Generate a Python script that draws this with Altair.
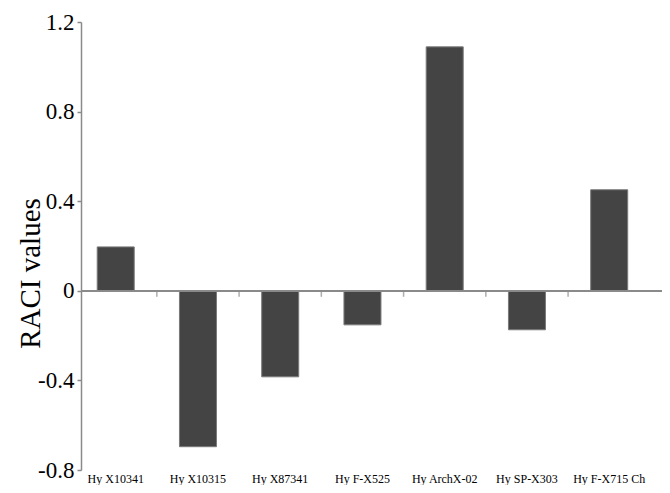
import altair as alt
import pandas as pd

categories = ["Hy X10341", "Hy X10315", "Hy X87341", "Hy F-X525",
              "Hy ArchX-02", "Hy SP-X303", "Hy F-X715 Ch"]
raci_values = [0.196, -0.696, -0.384, -0.152, 1.089, -0.174, 0.451]
y_ticks = [-0.8, -0.4, 0, 0.4, 0.8, 1.2]

df = pd.DataFrame({"cat": categories, "val": raci_values})
df_ticks = pd.DataFrame({"cat": categories[:-1], "zero": [0] * (len(categories) - 1)})

W, H = 581, 448
PI, PO, ALIGN = 0.55, 0.307, 0.321
step = W / (len(categories) - PI + 2 * PO)
tick_off = step * PI / 2

FONT = "Liberation Serif"
GRAY = "#8a8a8a"

xscale = alt.Scale(paddingInner=PI, paddingOuter=PO, align=ALIGN, round=False)
yscale = alt.Scale(domain=[-0.8, 1.2], nice=False, zero=False)

yaxis = alt.Axis(
    values=y_ticks, labelExpr="toString(datum.value)", grid=False,
    domainColor=GRAY, domainWidth=1.5, tickColor=GRAY, tickWidth=1.5, tickSize=4,
    labelFont=FONT, labelFontSize=23, labelColor="black", labelPadding=3,
    title="RACI values", titleFont=FONT, titleFontSize=29, titleFontWeight="normal",
    titleColor="black", titleX=-51, titleY=251, titleAngle=-90,
    titleAlign="center", titleBaseline="middle",
)

label_axis = alt.Axis(
    title=None, domain=False, ticks=False, labelAngle=0, labelFont=FONT,
    labelFontSize=12, labelColor="black", labelPadding=3, grid=False,
)

bars = alt.Chart(df).mark_bar(color="#444444", stroke="#7a7a7a", strokeWidth=1).encode(
    x=alt.X("cat:N", sort=categories, scale=xscale, axis=label_axis),
    y=alt.Y("val:Q", scale=yscale, axis=yaxis),
)

zero_line = alt.Chart(df).mark_rule(color=GRAY, strokeWidth=1.5).encode(
    y=alt.datum(0),
)

zero_ticks = alt.Chart(df_ticks).mark_tick(
    color=GRAY, orient="vertical", size=6, thickness=1.5, xOffset=tick_off, yOffset=3,
).encode(
    x=alt.X("cat:N", sort=categories, bandPosition=1),
    y=alt.Y("zero:Q"),
)

chart = alt.layer(bars, zero_line, zero_ticks).properties(
    width=W, height=H,
    autosize=alt.AutoSizeParams(type="none"),
    padding={"left": 73, "top": 14, "right": 0, "bottom": 15},
).configure_view(stroke=None)

chart.save("out.html", embed_options={"renderer": "svg", "actions": False})
